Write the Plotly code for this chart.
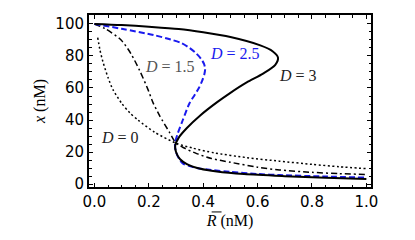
import plotly.graph_objects as go

# D = 0 (dotted)
r_d0 = [0.012, 0.02, 0.031, 0.05, 0.068, 0.1, 0.13, 0.16, 0.22, 0.3, 0.36, 0.44, 0.56, 0.68, 0.8, 0.9, 1.0]
x_d0 = [91.5, 84, 76.5, 66.5, 59, 50.5, 44.5, 40, 32.5, 25.5, 22.5, 19.5, 16.5, 14.3, 12.3, 10.8, 9.6]

# D = 1.5 (dash-dot)
r_d15 = [0.0, 0.04, 0.098, 0.134, 0.166, 0.197, 0.215, 0.24, 0.276, 0.3, 0.33, 0.376, 0.43, 0.5, 0.6, 0.68, 0.8, 0.9, 1.0]
x_d15 = [100, 97, 90, 81.5, 71, 59, 51, 42.6, 32.3, 25.5, 22.5, 19, 16, 13.6, 10.5, 8.8, 7.3, 6.5, 6.0]

# D = 2.5 (blue dashed)
r_d25 = [0.0, 0.1, 0.22, 0.28, 0.32, 0.35, 0.375, 0.393, 0.403, 0.407, 0.404, 0.396, 0.384, 0.368, 0.35, 0.325, 0.305, 0.296, 0.30, 0.314, 0.326, 0.35, 0.376, 0.43, 0.498, 0.6, 0.68, 0.85, 1.0]
x_d25 = [100, 97, 93, 90.3, 88, 85, 81.5, 78, 75, 72, 68.5, 64.5, 60, 55.5, 50.6, 40, 31, 25, 20, 15, 12.8, 11.2, 10, 8.8, 7.6, 6.3, 5.6, 4.7, 4.0]

# D = 3 (solid)
r_d3 = [0.0, 0.1, 0.2, 0.31, 0.40, 0.50, 0.61, 0.655, 0.675, 0.665, 0.62, 0.56, 0.50, 0.45, 0.39, 0.34, 0.31, 0.297, 0.30, 0.315, 0.34, 0.39, 0.45, 0.55, 0.7, 0.85, 1.0]
x_d3 = [100, 99.3, 98.3, 96.9, 94.8, 91.8, 86.6, 83, 79, 74.5, 69, 63.5, 57, 51, 43, 35, 29, 24, 20, 15.5, 12.5, 9.5, 7.8, 6.2, 4.9, 3.9, 3.2]

x_ticks = [0.0, 0.2, 0.4, 0.6, 0.8, 1.0]
x_tick_labels = ["0.0", "0.2", "0.4", "0.6", "0.8", "1.0"]
y_ticks = [0, 20, 40, 60, 80, 100]
y_tick_labels = ["0", "20", "40", "60", "80", "100"]

labels = ["<i>D</i> = 0", "<i>D</i> = 1.5", "<i>D</i> = 2.5", "<i>D</i> = 3"]
label_r = [0.094, 0.278, 0.517, 0.748]
label_x = [29.2, 73.5, 81.5, 68]
label_colors = ["#222222", "#555555", "#1a1aee", "#222222"]

fig = go.Figure()
fig.add_trace(go.Scatter(x=r_d0, y=x_d0, mode="lines", line=dict(color="black", width=1.5, dash="2px,2.5px", shape="spline", smoothing=0.7), showlegend=False))
fig.add_trace(go.Scatter(x=r_d15, y=x_d15, mode="lines", line=dict(color="black", width=1.5, dash="6px,3px,2px,3px", shape="spline", smoothing=0.7), showlegend=False))
fig.add_trace(go.Scatter(x=r_d25, y=x_d25, mode="lines", line=dict(color="#1a1aee", width=2, dash="6px,3px", shape="spline", smoothing=0.8), showlegend=False))
fig.add_trace(go.Scatter(x=r_d3, y=x_d3, mode="lines", line=dict(color="black", width=2, shape="spline", smoothing=0.8), showlegend=False))

for t, rx, xy, c in zip(labels, label_r, label_x, label_colors):
    fig.add_annotation(x=rx, y=xy, text=t, showarrow=False, font=dict(family="Liberation Serif", size=16, color=c))

axis_common = dict(
    showgrid=False, zeroline=False, showline=True, linecolor="black", linewidth=2,
    mirror="allticks", ticks="inside", ticklen=4, tickwidth=1.2, tickcolor="black",
    tickfont=dict(family="DejaVu Sans", size=15, color="black"),
)
fig.update_xaxes(range=[-0.02, 1.017], tickvals=x_ticks, ticktext=x_tick_labels,
                 minor=dict(dtick=0.05, tick0=0, ticks="inside", ticklen=2.5, tickcolor="black", tickwidth=1),
                 title=dict(text="<i>R</i> (nM)", font=dict(family="Liberation Serif", size=16, color="black"), standoff=5),
                 **axis_common)
fig.update_yaxes(range=[-1.85, 105.6], tickvals=y_ticks, ticktext=y_tick_labels,
                 minor=dict(dtick=5, tick0=0, ticks="inside", ticklen=2.5, tickcolor="black", tickwidth=1),
                 title=dict(text="<i>x</i> (nM)", font=dict(family="Liberation Serif", size=16, color="black"), standoff=6),
                 **axis_common)
# overbar above R in the x-axis title
fig.add_shape(type="line", xref="paper", yref="paper", x0=0.435, x1=0.47, y0=-0.145, y1=-0.145,
              line=dict(color="black", width=1))
# page body has an 8px default margin; compensate so the plot area lands where the reference has it
fig.update_layout(width=415, height=240, margin=dict(l=81, r=52, t=5, b=61),
                  plot_bgcolor="white", paper_bgcolor="white")
fig.write_html("out.html")
